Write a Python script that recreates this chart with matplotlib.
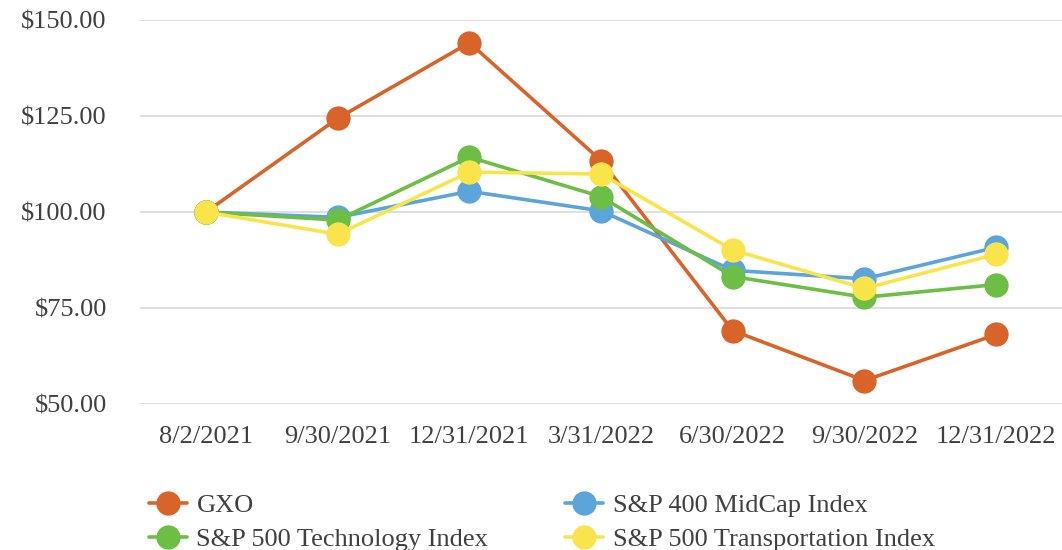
import matplotlib.pyplot as plt
from matplotlib.ticker import FuncFormatter

dates = ['8/2/2021', '9/30/2021', '12/31/2021', '3/31/2022', '6/30/2022', '9/30/2022', '12/31/2022']
gxo = [100.0, 124.4, 144.1, 113.4, 69.1, 56.1, 68.1]
midcap = [100.0, 98.6, 105.4, 100.3, 84.8, 82.6, 90.8]
tech = [100.0, 97.9, 114.3, 104.0, 83.2, 77.8, 81.1]
transport = [100.0, 94.2, 110.4, 109.9, 90.1, 80.1, 89.0]

series = [
    ('GXO', gxo, '#D9642A'),
    ('S&P 400 MidCap Index', midcap, '#5BA5DA'),
    ('S&P 500 Technology Index', tech, '#6CBE44'),
    ('S&P 500 Transportation Index', transport, '#F9E54B'),
]

plt.rcParams['font.family'] = ['Liberation Serif', 'DejaVu Serif']

fig = plt.figure(figsize=(10.62, 5.5), dpi=100)
ax = fig.add_axes([0.132, 0.2655, 0.868, 0.698])

x = list(range(len(dates)))
lines = {}
for name, vals, color in series:
    ln, = ax.plot(x, vals, color=color, lw=2.6, marker='o', markersize=17.5,
                  markeredgewidth=0, label=name, solid_capstyle='round')
    lines[name] = ln

ax.set_xlim(-0.5, len(dates) - 0.5)
ax.set_ylim(50, 150)
ax.set_yticks([50, 75, 100, 125, 150])
ax.yaxis.set_major_formatter(FuncFormatter(lambda v, p: '${:.2f}'.format(v)))
ax.set_xticks(x)
ax.set_xticklabels(dates)
ax.grid(axis='y', color='#D9D9D9', lw=1.2)
ax.set_axisbelow(True)
for s in ax.spines.values():
    s.set_visible(False)
ax.tick_params(length=0, labelsize=19, colors='#404040')
ax.tick_params(axis='x', pad=16)
ax.tick_params(axis='y', pad=24)

order = ['GXO', 'S&P 500 Technology Index', 'S&P 400 MidCap Index', 'S&P 500 Transportation Index']
fig.legend([lines[n] for n in order], order, ncol=2, frameon=False,
           loc='upper left', bbox_to_anchor=(0.130, 0.122), borderaxespad=0,
           fontsize=19, handlelength=1.45, handletextpad=0.36, columnspacing=2.9,
           labelspacing=0.42, labelcolor='#404040')

fig.savefig('out.png', dpi=100)
